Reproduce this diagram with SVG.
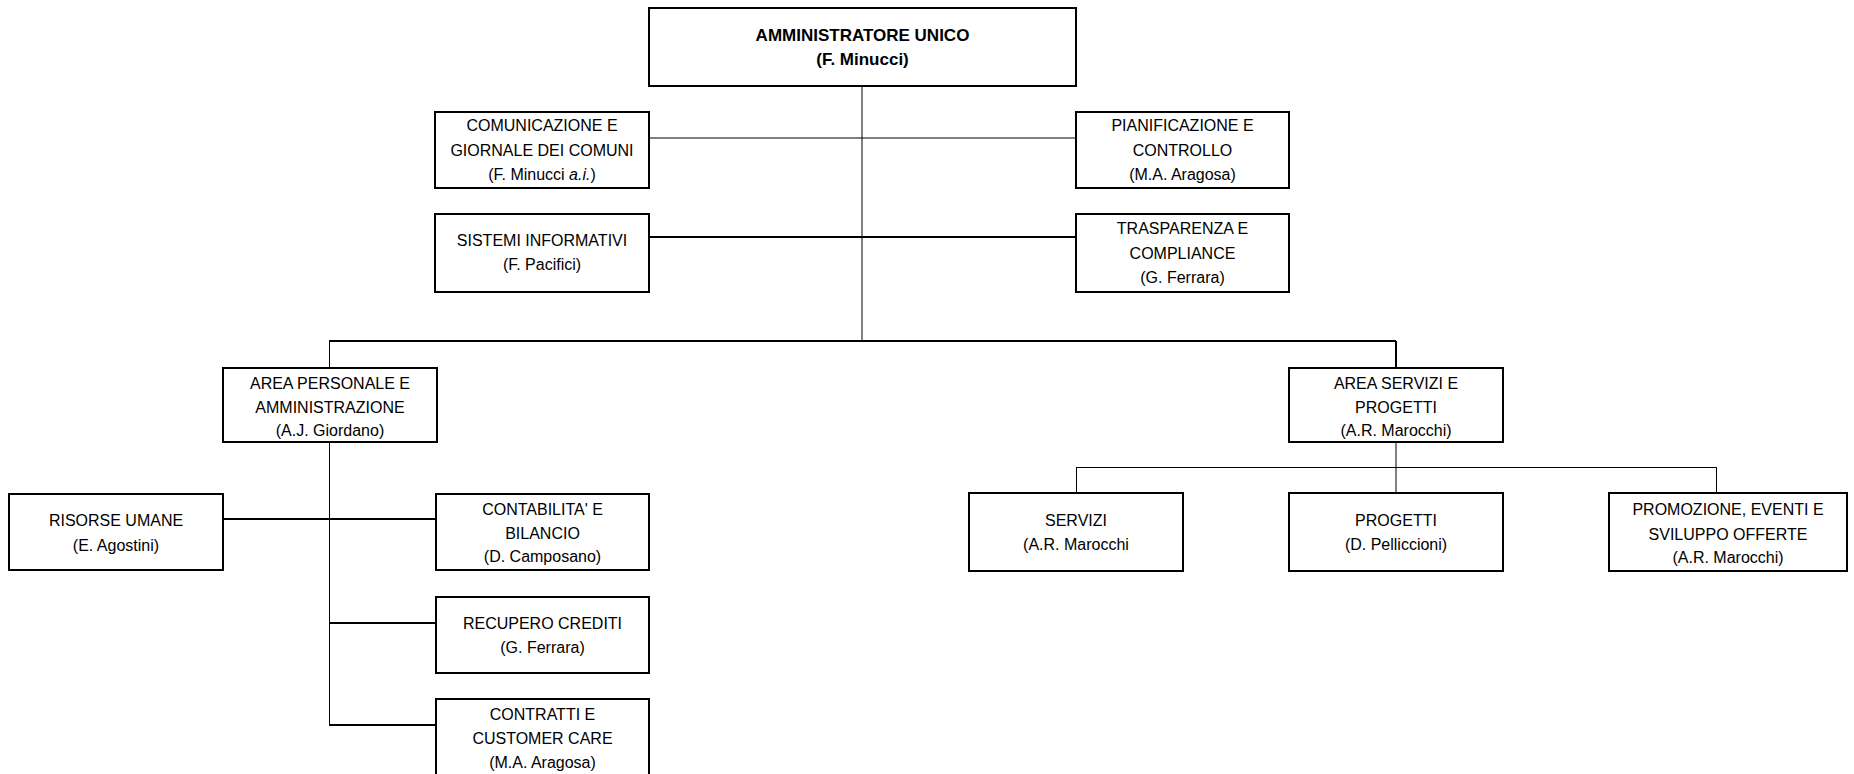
<svg xmlns="http://www.w3.org/2000/svg" width="1854" height="774" viewBox="0 0 1854 774">
<style>
.box{fill:#fff;stroke:#000;stroke-width:2}
text{font-family:"Liberation Sans",Arial,sans-serif;font-size:16px;fill:#000;text-anchor:middle}
.t{font-weight:bold;font-size:17px}
.c1{stroke:#000;stroke-width:1;fill:none}
.c2{stroke:#000;stroke-width:2;fill:none}
.cg{stroke:#808080;stroke-width:2;fill:none}
</style>
<rect width="1854" height="774" fill="#fff"/>
<g id="connectors">
<line class="cg" x1="862" y1="86" x2="862" y2="317"/>
<line class="c1" x1="862" y1="317" x2="862" y2="341"/>
<line class="c1" x1="649" y1="138" x2="1076" y2="138"/>
<line class="c2" x1="649" y1="237" x2="1076" y2="237"/>
<line class="c2" x1="329" y1="341" x2="1396" y2="341"/>
<line class="c1" x1="329.5" y1="341" x2="329.5" y2="368"/>
<line class="c2" x1="1396" y1="341" x2="1396" y2="368"/>
<line class="c1" x1="329.5" y1="442" x2="329.5" y2="725"/>
<line class="c2" x1="223" y1="519" x2="436" y2="519"/>
<line class="c2" x1="329" y1="623" x2="436" y2="623"/>
<line class="c2" x1="329" y1="725" x2="436" y2="725"/>
<line class="cg" x1="1396" y1="442" x2="1396" y2="493"/>
<line class="c1" x1="1076" y1="467.5" x2="1716" y2="467.5"/>
<line class="c1" x1="1076.5" y1="467" x2="1076.5" y2="493"/>
<line class="c1" x1="1716.5" y1="467" x2="1716.5" y2="493"/>
</g>
<g id="amministratore">
<rect class="box" x="649" y="8" width="427" height="78"/>
<text class="t" x="862.5" y="41">AMMINISTRATORE UNICO</text>
<text class="t" x="862.5" y="65">(F. Minucci)</text>
</g>
<g id="comunicazione">
<rect class="box" x="435" y="112" width="214" height="76"/>
<text x="542" y="131">COMUNICAZIONE E</text>
<text x="542" y="156">GIORNALE DEI COMUNI</text>
<text x="542" y="180">(F. Minucci <tspan font-style="italic">a.i.</tspan>)</text>
</g>
<g id="sistemi">
<rect class="box" x="435" y="214" width="214" height="78"/>
<text x="542" y="246">SISTEMI INFORMATIVI</text>
<text x="542" y="270">(F. Pacifici)</text>
</g>
<g id="pianificazione">
<rect class="box" x="1076" y="112" width="213" height="76"/>
<text x="1182.5" y="131">PIANIFICAZIONE E</text>
<text x="1182.5" y="156">CONTROLLO</text>
<text x="1182.5" y="180">(M.A. Aragosa)</text>
</g>
<g id="trasparenza">
<rect class="box" x="1076" y="214" width="213" height="78"/>
<text x="1182.5" y="234">TRASPARENZA E</text>
<text x="1182.5" y="259">COMPLIANCE</text>
<text x="1182.5" y="283">(G. Ferrara)</text>
</g>
<g id="area-personale">
<rect class="box" x="223" y="368" width="214" height="74"/>
<text x="330" y="389">AREA PERSONALE E</text>
<text x="330" y="413">AMMINISTRAZIONE</text>
<text x="330" y="436">(A.J. Giordano)</text>
</g>
<g id="area-servizi">
<rect class="box" x="1289" y="368" width="214" height="74"/>
<text x="1396" y="389">AREA SERVIZI E</text>
<text x="1396" y="413">PROGETTI</text>
<text x="1396" y="436">(A.R. Marocchi)</text>
</g>
<g id="risorse">
<rect class="box" x="9" y="494" width="214" height="76"/>
<text x="116" y="526">RISORSE UMANE</text>
<text x="116" y="551">(E. Agostini)</text>
</g>
<g id="contabilita">
<rect class="box" x="436" y="494" width="213" height="76"/>
<text x="542.5" y="515">CONTABILITA' E</text>
<text x="542.5" y="539">BILANCIO</text>
<text x="542.5" y="562">(D. Camposano)</text>
</g>
<g id="recupero">
<rect class="box" x="436" y="597" width="213" height="76"/>
<text x="542.5" y="629">RECUPERO CREDITI</text>
<text x="542.5" y="653">(G. Ferrara)</text>
</g>
<g id="contratti">
<rect class="box" x="436" y="699" width="213" height="77"/>
<text x="542.5" y="720">CONTRATTI E</text>
<text x="542.5" y="744">CUSTOMER CARE</text>
<text x="542.5" y="768">(M.A. Aragosa)</text>
</g>
<g id="servizi">
<rect class="box" x="969" y="493" width="214" height="78"/>
<text x="1076" y="526">SERVIZI</text>
<text x="1076" y="550">(A.R. Marocchi</text>
</g>
<g id="progetti">
<rect class="box" x="1289" y="493" width="214" height="78"/>
<text x="1396" y="526">PROGETTI</text>
<text x="1396" y="550">(D. Pelliccioni)</text>
</g>
<g id="promozione">
<rect class="box" x="1609" y="493" width="238" height="78"/>
<text x="1728" y="515">PROMOZIONE, EVENTI E</text>
<text x="1728" y="540">SVILUPPO OFFERTE</text>
<text x="1728" y="563">(A.R. Marocchi)</text>
</g>
</svg>
